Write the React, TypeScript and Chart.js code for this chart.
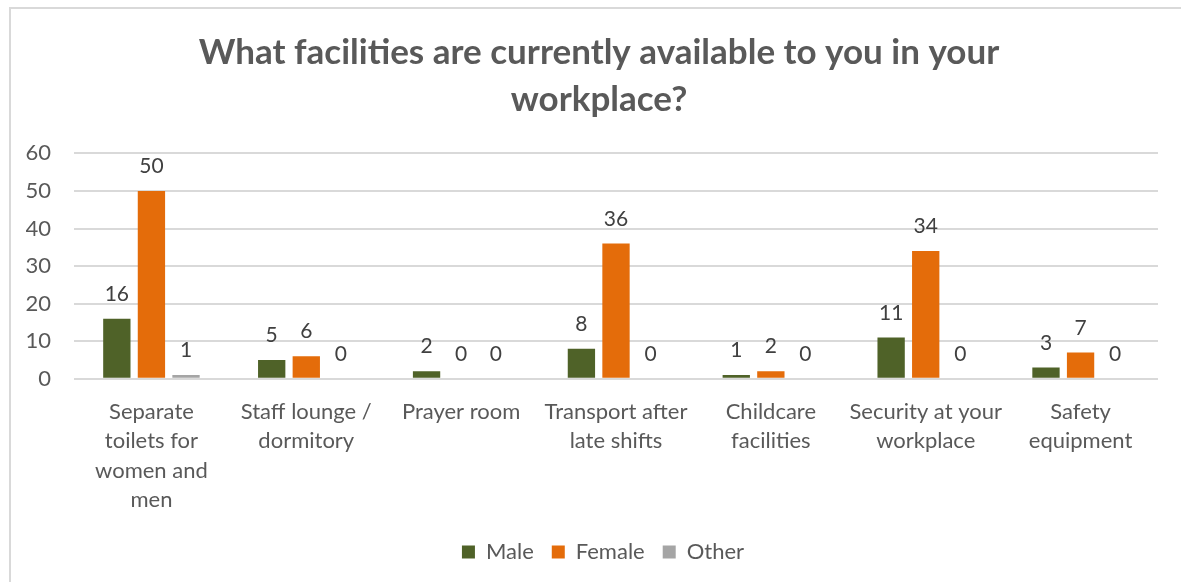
import React, { useEffect, useRef } from "react";
import { Chart, registerables } from "chart.js";

Chart.register(...registerables);

const categories: (string | string[])[] = [
  ["Separate", "toilets for", "women and", "men"],
  ["Staff lounge /", "dormitory"],
  "Prayer room",
  ["Transport after", "late shifts"],
  ["Childcare", "facilities"],
  ["Security at your", "workplace"],
  ["Safety", "equipment"],
];
const maleValues = [16, 5, 2, 8, 1, 11, 3];
const femaleValues = [50, 6, 0, 36, 2, 34, 7];
const otherValues = [1, 0, 0, 0, 0, 0, 0];
const titleLines = ["What facilities are currently available to you in your", "workplace?"];

const FONT = "Lato, 'Open Sans', sans-serif";

const frameAndLabels = {
  id: "frameAndLabels",
  afterLayout(chart: any) {
    const lg = chart.legend;
    if (lg) {
      lg.left += 11;
      lg.right += 11;
    }
    const tt = chart.titleBlock;
    if (tt) {
      tt.left += 7;
      tt.right += 7;
    }
  },
  beforeDraw(chart: any) {
    const ctx = chart.ctx;
    ctx.save();
    ctx.fillStyle = "#ffffff";
    ctx.fillRect(0, 0, chart.width, chart.height);
    ctx.strokeStyle = "#d9d9d9";
    ctx.lineWidth = 2;
    ctx.beginPath();
    ctx.moveTo(10, chart.height);
    ctx.lineTo(10, 8);
    ctx.lineTo(chart.width, 8);
    ctx.stroke();
    ctx.restore();
  },
  afterDatasetsDraw(chart: any) {
    const ctx = chart.ctx;
    ctx.save();
    ctx.font = `21px ${FONT}`;
    ctx.fillStyle = "#404040";
    ctx.textAlign = "center";
    ctx.textBaseline = "alphabetic";
    chart.data.datasets.forEach((ds: any, i: number) => {
      const meta = chart.getDatasetMeta(i);
      meta.data.forEach((bar: any, j: number) => {
        ctx.fillText(String(ds.data[j]), bar.x, bar.y - 18);
      });
    });
    ctx.restore();
  },
};

export default function App() {
  const ref = useRef<HTMLCanvasElement | null>(null);
  useEffect(() => {
    document.body.style.margin = "0";
    const chart = new Chart(ref.current as HTMLCanvasElement, {
      type: "bar",
      data: {
        labels: categories,
        datasets: [
          { label: "Male", data: maleValues, backgroundColor: "#4f6228" },
          { label: "Female", data: femaleValues, backgroundColor: "#e46c0a" },
          { label: "Other", data: otherValues, backgroundColor: "#a5a5a5" },
        ],
      },
      options: {
        responsive: false,
        animation: false,
        layout: { padding: { top: 20, left: 26, right: 23, bottom: 9 } },
        datasets: { bar: { categoryPercentage: 0.67, barPercentage: 0.79 } } as any,
        plugins: {
          title: {
            display: true,
            text: titleLines,
            color: "#595959",
            font: { family: FONT, size: 35, weight: "bold", lineHeight: 1.32 },
            padding: { top: 10, bottom: 31 },
          },
          legend: {
            position: "bottom",
            labels: {
              color: "#595959",
              font: { family: FONT, size: 22 },
              boxWidth: 13,
              boxHeight: 13,
              padding: 18,
            },
          },
          tooltip: { enabled: false },
        },
        scales: {
          x: {
            grid: { display: false },
            border: { display: false },
            afterFit(scale: any) {
              scale.height = scale.height - 2;
            },
            ticks: {
              color: "#595959",
              font: { family: FONT, size: 22, lineHeight: 1.32 },
              padding: 11,
              maxRotation: 0,
              autoSkip: false,
            },
          },
          y: {
            min: 0,
            max: 60,
            grid: { color: "#d9d9d9", lineWidth: 2, drawTicks: false },
            border: { display: false },
            afterFit(scale: any) {
              scale.width = 48;
            },
            ticks: {
              stepSize: 10,
              color: "#595959",
              font: { family: FONT, size: 22 },
              padding: 23,
            },
          },
        },
      },
      plugins: [frameAndLabels],
    });
    return () => chart.destroy();
  }, []);
  return (
    <div style={{ width: 1181, height: 582 }}>
      <canvas ref={ref} width={1181} height={582} />
    </div>
  );
}
